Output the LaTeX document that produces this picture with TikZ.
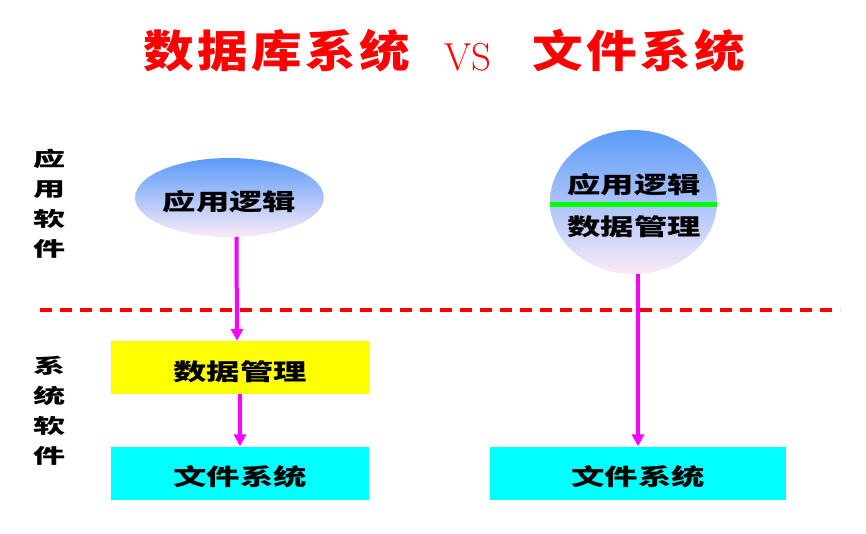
\documentclass[tikz,border=0pt]{standalone}
\usepackage{fontspec}
\newfontfamily\cjk[FakeStretch=1.45]{Noto Sans CJK SC}
\newfontfamily\cjkside[FakeStretch=1.6]{Noto Sans CJK SC}
\newfontfamily\cjktitle[FakeStretch=1.15,LetterSpace=8]{Noto Sans CJK SC}
\usetikzlibrary{shapes.geometric,arrows.meta,positioning}
\definecolor{ellblue}{HTML}{5B9BF8}
\definecolor{ellpink}{HTML}{FAEAF8}
\definecolor{mgryellow}{RGB}{255,255,0}
\definecolor{fscyan}{RGB}{0,255,255}
\definecolor{flowpink}{RGB}{255,0,255}
\definecolor{titlered}{RGB}{255,0,0}
\definecolor{splitgreen}{RGB}{0,255,0}

\begin{document}
\begin{tikzpicture}[x=1pt,y=-1pt,% pixel like coordinates, y pointing down
        boxtext/.style={font=\cjk\bfseries\fontsize{23}{23}\selectfont},
        sidetext/.style={font=\cjkside\bfseries\fontsize{20}{30}\selectfont,align=center},
        titletext/.style={font=\cjktitle\bfseries\fontsize{44}{44}\selectfont,text=titlered,anchor=base},
        layerbox/.style={minimum width=258pt,minimum height=53pt,inner sep=0pt,boxtext,
                text height=25pt,text depth=0pt},% pushes the text a little below the middle
        appell/.style={ellipse,top color=ellblue,bottom color=ellpink,inner sep=0pt,boxtext,
                text height=26pt,text depth=0pt},
        flow/.style={draw=flowpink,line width=4pt,-{Triangle[width=12pt,length=12pt]}}]
\useasboundingbox (0,0) rectangle (866,533);

% title
\node[titletext] (dbTitle) at (277,67) {数据库系统};
\node[font=\fontsize{39}{39}\selectfont,text=titlered,anchor=base] (vsTitle) at (468,70) {VS};
\node[titletext] (fsTitle) at (639,67) {文件系统};

% layer labels on the left
\node[sidetext] (appSide) at (49,203.5) {应\\用\\软\\件};
\node[sidetext] (sysSide) at (49,411) {系\\统\\软\\件};

% divider between application and system software
\coordinate (divL) at (40,310);
\coordinate (divR) at (840,310);
\draw[titlered,line width=3.5pt,dash pattern=on 12pt off 8pt] (divL) -- (divR);

% database system side
\node[appell,minimum width=173pt,minimum height=79pt] (appL) at (229.5,197.5) {应用逻辑};
\node[layerbox,fill=mgryellow] (dbMgr) at (240,367.5) {数据管理};
\node[layerbox,fill=fscyan] (fsL) at (240,473) {文件系统};

% file system side
\node[appell,minimum width=167pt,minimum height=144pt] (appR) at (633.5,202) {};
\node[boxtext] (appRtop) at (634,185) {应用逻辑};
\node[boxtext] (appRbot) at (634,227) {数据管理};
\draw[splitgreen,line width=5pt] ([yshift=-2pt]appR.west) -- ([yshift=-2pt]appR.east);
\node[layerbox,fill=fscyan,minimum width=296pt] (fsR) at (638,473) {文件系统};

\draw[flow] ([xshift=7pt]appL.south) -- ([xshift=-3pt]dbMgr.north);
\draw[flow] (dbMgr.south) -- (fsL.north);
\draw[flow] ([xshift=4.5pt]appR.south) -- (fsR.north);

\end{tikzpicture}
\end{document}
